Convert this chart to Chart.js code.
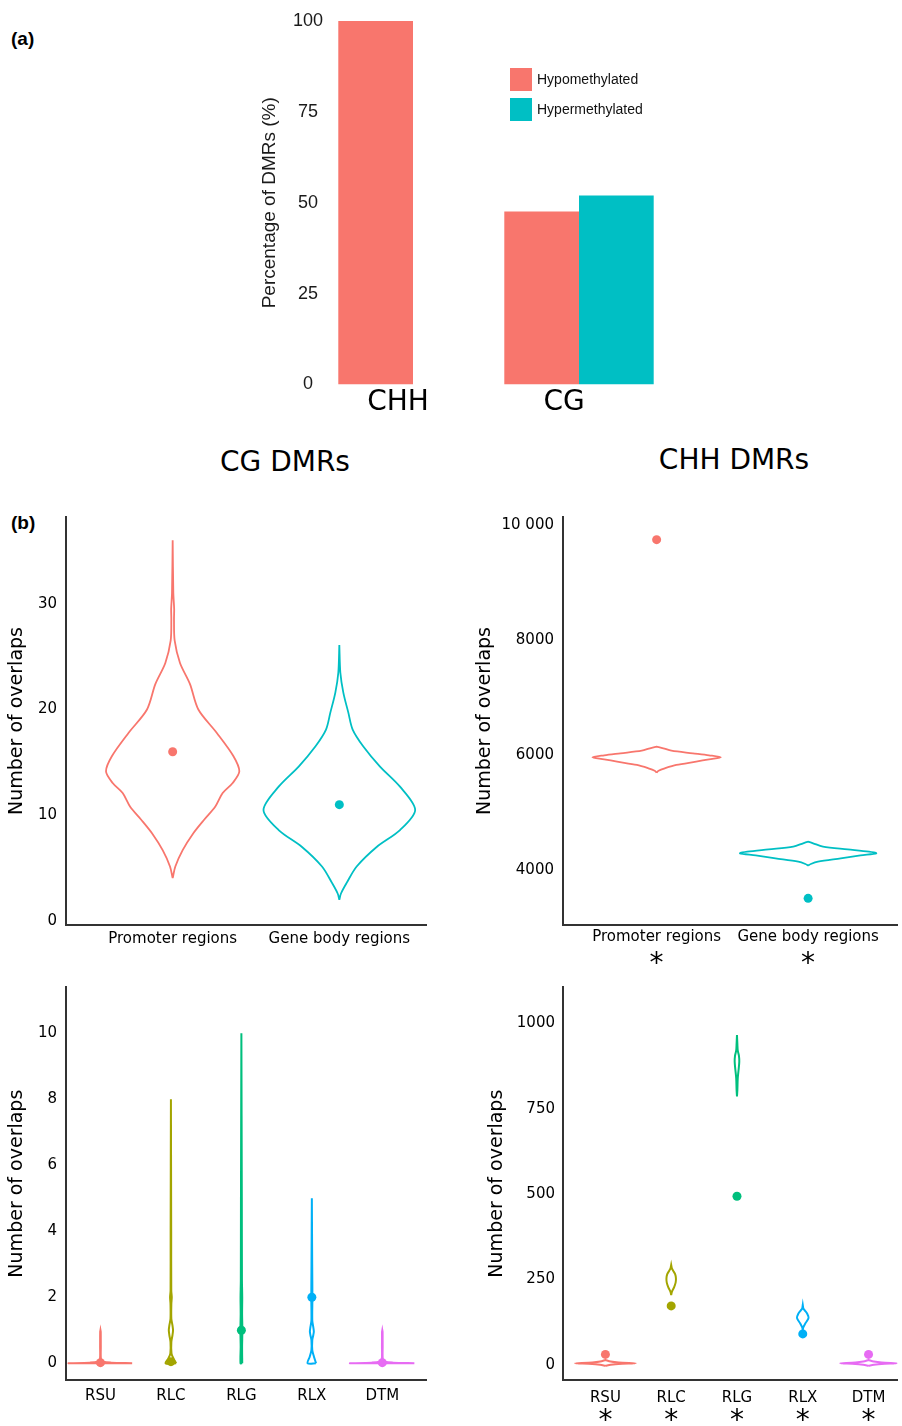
<!DOCTYPE html>
<html>
<head>
<meta charset="utf-8">
<script src="https://cdn.jsdelivr.net/npm/chart.js@4.4.1/dist/chart.umd.min.js"></script>
<style>
  body { margin: 0; background: #fff; width: 902px; height: 1426px; position: relative; overflow: hidden; }
  canvas { position: absolute; left: 0; top: 0; }
  .panel { position: absolute; font: bold 19px "Liberation Sans", Arial, sans-serif; color: #000; line-height: 20px; }
  .head { position: absolute; width: 300px; text-align: center; font: 28px "DejaVu Sans", sans-serif; color: #000; line-height: 34px; }
</style>
</head>
<body>
<div class="panel" style="left:11px;top:29px">(a)</div>
<div class="panel" style="left:11px;top:513px">(b)</div>
<div class="head" style="left:135px;top:445px">CG DMRs</div>
<div class="head" style="left:584px;top:443px">CHH DMRs</div>

<canvas id="barA" width="902" height="1426"></canvas>
<canvas id="cgRegions" width="902" height="1426"></canvas>
<canvas id="chhRegions" width="902" height="1426"></canvas>
<canvas id="cgTe" width="902" height="1426"></canvas>
<canvas id="chhTe" width="902" height="1426"></canvas>

<script>
const PAGE_W = 902;
const PAGE_H = 1426;
const HUE2 = ['#F8766D', '#00BFC4'];
const HUE5 = ['#F8766D', '#A3A500', '#00BF7D', '#00B0F6', '#E76BF3'];

// ---- (a) share of DMRs ----
const contexts = ['CHH', 'CG'];
const hypoPct = [100, 47.6];
const hyperPct = [0, 52];
const pctTicks = [0, 25, 50, 75, 100];

// ---- (b) categories ----
const regions = ['Promoter regions', 'Gene body regions'];
const teFamilies = ['RSU', 'RLC', 'RLG', 'RLX', 'DTM'];

// violin outlines: [value, half width in category units]
const cgPromoterViolin = [[4.05, 0], [5.15, 0.016], [6.7, 0.06], [8.3, 0.124], [9.6, 0.19], [10.8, 0.255],
  [12.1, 0.3], [13.05, 0.36], [14.15, 0.4], [15.6, 0.364], [17.8, 0.264], [20.0, 0.154], [22.4, 0.104],
  [24.4, 0.044], [26.5, 0.012], [28.5, 0.008], [29.5, 0.009], [31, 0.004], [36.0, 0]];
const cgGeneBodyViolin = [[2.0, 0], [2.6, 0.01], [3.6, 0.044], [5.15, 0.104], [7.0, 0.224], [8.6, 0.364],
  [10.5, 0.455], [12.7, 0.364], [14.6, 0.244], [16.5, 0.144], [18.1, 0.08], [19.7, 0.054], [21.6, 0.024],
  [23.5, 0.006], [26.1, 0]];
const cgRegionMeans = [16.0, 11.0];
const cgRegionTicks = [0, 10, 20, 30];

const chhPromoterViolin = [[5693, 0], [5727, 0.013], [5768, 0.054], [5826, 0.13], [5884, 0.261], [5925, 0.346],
  [5959, 0.424], [5994, 0.346], [6029, 0.239], [6075, 0.098], [6116, 0.044], [6145, 0]];
const chhGeneBodyViolin = [[4075, 0], [4104, 0.018], [4145, 0.065], [4203, 0.215], [4255, 0.346], [4290, 0.45],
  [4319, 0.402], [4359, 0.261], [4406, 0.098], [4464, 0.033], [4493, 0]];
const chhRegionMeans = [9745, 3507];
const chhRegionTicks = [4000, 6000, 8000, 10000];
const chhRegionTickLabels = ['4000', '6000', '8000', '10 000'];

const cgRsuViolin = [[0, 0.45], [0.02, 0.15], [0.05, 0.04], [0.12, 0.008], [0.5, 0.005], [0.95, 0.004], [1.0, 0]];
const cgRlcViolin = [[0, 0.075], [0.15, 0.035], [0.3, 0.008], [0.65, 0.006], [0.85, 0.022], [1.0, 0.03],
  [1.15, 0.022], [1.35, 0.006], [1.8, 0.006], [2.0, 0.012], [2.2, 0.005], [4, 0.004], [8, 0]];
const cgRlgViolin = [[0, 0.012], [0.5, 0.01], [1, 0.014], [1.5, 0.01], [2, 0.012], [2.5, 0.008], [5, 0.006], [10, 0]];
const cgRlxViolin = [[0, 0.06], [0.2, 0.03], [0.4, 0.006], [0.7, 0.006], [0.85, 0.02], [0.96, 0.028],
  [1.1, 0.02], [1.3, 0.006], [2, 0.008], [3, 0.005], [5, 0]];
const cgDtmViolin = [[0, 0.455], [0.02, 0.15], [0.05, 0.04], [0.12, 0.008], [0.5, 0.005], [0.95, 0.004], [1.0, 0]];
const cgTeMeans = [0.02, 0.05, 1.0, 2.0, 0.02];
const cgTeTicks = [0, 2, 4, 6, 8, 10];

const chhRsuViolin = [[-2, 0], [0.5, 0.08], [3, 0.2], [5, 0.46], [7, 0.2], [10, 0.08], [14.6, 0]];
const chhRlcViolin = [[205, 0], [215, 0.012], [228, 0.045], [242, 0.068], [254, 0.072], [266, 0.06],
  [276, 0.03], [283, 0.01], [293, 0]];
const chhRlgViolin = [[786, 0], [805, 0.006], [840, 0.012], [865, 0.025], [888, 0.035], [905, 0.03],
  [920, 0.012], [940, 0.006], [966, 0]];
const chhRlxViolin = [[102, 0], [110, 0.008], [122, 0.04], [138, 0.088], [150, 0.068], [160, 0.03],
  [166, 0.008], [176, 0]];
const chhDtmViolin = [[-2, 0], [0.5, 0.08], [3, 0.2], [5, 0.43], [7, 0.2], [10, 0.08], [14.6, 0]];
const chhTeMeans = [31, 173, 494, 91, 31];
const chhTeTicks = [0, 250, 500, 750, 1000];

Chart.defaults.font.family = '"DejaVu Sans", sans-serif';
Chart.defaults.color = '#000';

/** Closed outline: right side going up, left side coming down. */
function violinPoints(profile, i) {
  const right = profile.map(([v, w]) => ({ x: i + w, y: v }));
  const left = profile.slice().reverse().map(([v, w]) => ({ x: i - w, y: v }));
  return right.concat(left, [right[0]]);
}

function fixedTicks(values) {
  return (scale) => { scale.ticks = values.map((v) => ({ value: v })); };
}

// ---- panel (a) ----
const legendInPlot = {
  id: 'legendInPlot',
  afterDraw(chart) {
    const { ctx, chartArea } = chart;
    ctx.save();
    ctx.font = '14px "Liberation Sans", Arial, sans-serif';
    ctx.textBaseline = 'middle';
    chart.data.datasets.forEach((ds, i) => {
      const x = chartArea.left + 180;
      const y = chartArea.top + 47 + i * 30;
      ctx.fillStyle = ds.backgroundColor;
      ctx.fillRect(x, y, 22, 23);
      ctx.fillStyle = '#111';
      ctx.fillText(ds.label, x + 27, y + 12);
    });
    ctx.restore();
  },
};

const aBox = { left: 330, top: 21, right: 662, bottom: 384.5 };
const aTitleLeft = 260.5;
const aXHeight = 40;

new Chart(document.getElementById('barA'), {
  type: 'bar',
  data: {
    labels: contexts,
    datasets: [
      { label: 'Hypomethylated', data: hypoPct, backgroundColor: HUE2[0] },
      { label: 'Hypermethylated', data: hyperPct, backgroundColor: HUE2[1] },
    ],
  },
  options: {
    responsive: false,
    animation: false,
    devicePixelRatio: 1,
    events: [],
    layout: {
      padding: { left: aTitleLeft, top: aBox.top, right: PAGE_W - aBox.right, bottom: PAGE_H - aBox.bottom - aXHeight },
    },
    datasets: { bar: { categoryPercentage: 0.9, barPercentage: 1 } },
    plugins: { legend: { display: false }, tooltip: { enabled: false } },
    scales: {
      x: {
        grid: { display: false, drawTicks: false },
        border: { display: false },
        ticks: { font: { size: 28, lineHeight: 1 }, color: '#000', labelOffset: -15, padding: 4.5, maxRotation: 0 },
        afterFit: (s) => { s.height = aXHeight; s.paddingLeft = 0; s.paddingRight = 0; },
      },
      y: {
        min: 0,
        max: 100,
        afterBuildTicks: fixedTicks(pctTicks),
        grid: { display: false, drawTicks: false },
        border: { display: false },
        ticks: { font: { family: '"Liberation Sans", Arial, sans-serif', size: 18, lineHeight: 1 }, color: '#1a1a1a', padding: 7, crossAlign: 'center' },
        title: {
          display: true,
          text: 'Percentage of DMRs (%)',
          font: { family: '"Liberation Sans", Arial, sans-serif', size: 19, lineHeight: 1 },
          color: '#1a1a1a',
          padding: 0,
        },
        afterFit: (s) => { s.width = aBox.left - aTitleLeft; s.paddingTop = 0; s.paddingBottom = 0; },
      },
    },
  },
  plugins: [legendInPlot],
});

// ---- panel (b) violins ----
function violinChart(id, cfg) {
  const titleSize = 19;
  const titleLeft = cfg.titleX - titleSize / 2;
  const xH = 22;
  const starH = cfg.stars ? 24 : 0;
  const box = cfg.box;
  const catIdx = cfg.cats.map((_, i) => i);

  const datasets = [];
  cfg.means.forEach((m, i) => datasets.push({
    data: [{ x: i, y: m }],
    pointRadius: 4.5,
    pointBackgroundColor: cfg.colors[i],
    pointBorderWidth: 0,
    order: 0,
  }));
  cfg.profiles.forEach((p, i) => datasets.push({
    data: violinPoints(p, i),
    showLine: true,
    borderColor: cfg.colors[i],
    borderWidth: cfg.lineWidth,
    pointRadius: 0,
    tension: 0.3,
    fill: false,
    order: 1,
  }));

  const scales = {
    x: {
      type: 'linear',
      min: cfg.xRange[0],
      max: cfg.xRange[1],
      afterBuildTicks: fixedTicks(catIdx),
      grid: { display: false, drawTicks: false },
      border: { display: true, color: '#333', width: 2 },
      ticks: {
        callback: (v, i) => cfg.cats[i],
        font: { size: 15, lineHeight: 1 },
        color: '#000',
        padding: cfg.xPad,
        autoSkip: false,
        maxRotation: 0,
      },
      afterFit: (s) => { s.height = xH; s.paddingLeft = 0; s.paddingRight = 0; },
    },
    y: {
      min: cfg.yRange[0],
      max: cfg.yRange[1],
      afterBuildTicks: fixedTicks(cfg.yTicks),
      grid: { display: false, drawTicks: false },
      border: { display: true, color: '#333', width: 2 },
      ticks: {
        callback: (v, i) => (cfg.yLabels ? cfg.yLabels[i] : String(v)),
        font: { size: 15, lineHeight: 1 },
        color: '#000',
        padding: cfg.yPad,
      },
      title: { display: true, text: 'Number of overlaps', font: { size: titleSize, lineHeight: 1 }, color: '#000', padding: 0 },
      afterFit: (s) => { s.width = box.left - titleLeft; s.paddingTop = 0; s.paddingBottom = 0; },
    },
  };

  if (cfg.stars) {
    scales.x2 = {
      type: 'linear',
      position: 'bottom',
      weight: 1,
      min: cfg.xRange[0],
      max: cfg.xRange[1],
      afterBuildTicks: fixedTicks(catIdx),
      grid: { display: false, drawTicks: false },
      border: { display: false },
      ticks: { callback: () => '*', font: { size: 28, lineHeight: 1 }, color: '#000', padding: cfg.starPad, autoSkip: false, maxRotation: 0 },
      afterFit: (s) => { s.height = starH; s.paddingLeft = 0; s.paddingRight = 0; },
    };
  }

  return new Chart(document.getElementById(id), {
    type: 'scatter',
    data: { datasets },
    options: {
      responsive: false,
      animation: false,
      devicePixelRatio: 1,
      events: [],
      layout: {
        padding: { left: titleLeft, top: box.top, right: PAGE_W - box.right, bottom: PAGE_H - box.bottom - xH - starH },
      },
      plugins: { legend: { display: false }, tooltip: { enabled: false } },
      scales,
    },
  });
}

violinChart('cgRegions', {
  box: { left: 66, top: 517, right: 426, bottom: 925 },
  cats: regions,
  profiles: [cgPromoterViolin, cgGeneBodyViolin],
  means: cgRegionMeans,
  colors: HUE2,
  xRange: [-0.64, 1.52],
  yRange: [-0.38, 38.2],
  yTicks: cgRegionTicks,
  titleX: 17,
  yPad: 9,
  xPad: 6.3,
  lineWidth: 1.8,
});

violinChart('chhRegions', {
  box: { left: 563.3, top: 517, right: 902, bottom: 925 },
  cats: regions,
  profiles: [chhPromoterViolin, chhGeneBodyViolin],
  means: chhRegionMeans,
  colors: HUE2,
  xRange: [-0.616, 1.59],
  yRange: [3043, 10139],
  yTicks: chhRegionTicks,
  yLabels: chhRegionTickLabels,
  titleX: 485,
  yPad: 9.3,
  xPad: 4.7,
  stars: true,
  starPad: 3.5,
  lineWidth: 1.8,
});

violinChart('cgTe', {
  box: { left: 66, top: 987.3, right: 426, bottom: 1380 },
  cats: teFamilies,
  profiles: [cgRsuViolin, cgRlcViolin, cgRlgViolin, cgRlxViolin, cgDtmViolin],
  means: cgTeMeans,
  colors: HUE5,
  xRange: [-0.489, 4.62],
  yRange: [-0.506, 11.39],
  yTicks: cgTeTicks,
  titleX: 16.7,
  yPad: 9,
  xPad: 9,
  lineWidth: 2,
});

violinChart('chhTe', {
  box: { left: 563.3, top: 987.3, right: 902, bottom: 1380 },
  cats: teFamilies,
  profiles: [chhRsuViolin, chhRlcViolin, chhRlgViolin, chhRlxViolin, chhDtmViolin],
  means: chhTeMeans,
  colors: HUE5,
  xRange: [-0.64, 4.44],
  yRange: [-43.9, 1105.6],
  yTicks: chhTeTicks,
  titleX: 496.7,
  yPad: 8.3,
  xPad: 10.5,
  stars: true,
  starPad: 5.5,
  lineWidth: 2,
});
</script>
</body>
</html>
